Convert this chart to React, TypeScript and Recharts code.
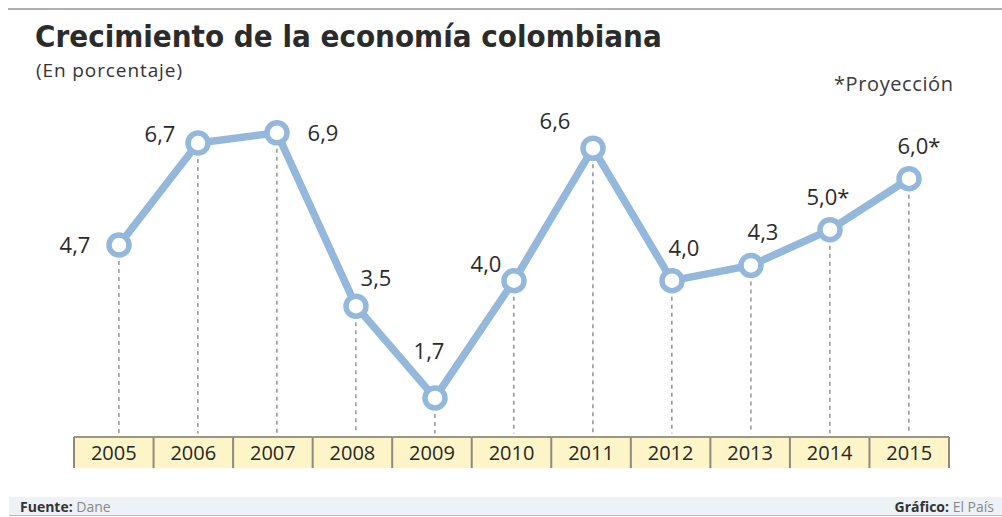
import { ComposedChart, Line, Bar, XAxis, YAxis, LabelList } from 'recharts';

const years = ['2005', '2006', '2007', '2008', '2009', '2010', '2011', '2012', '2013', '2014', '2015'];
const growth = [4.7, 6.7, 6.9, 3.5, 1.7, 4.0, 6.6, 4.0, 4.3, 5.0, 6.0];
const projected = [false, false, false, false, false, false, false, false, false, true, true];

// label placement relative to each point (dx, dy)
const labelOffsets: [number, number][] = [
  [-44, -1], [-38, -10], [46, -1], [20, -29], [-6, -48], [-28, -18],
  [-38, -28], [12, -34], [12, -34], [-2, -34], [10, -34],
];

const data = years.map((year, i) => ({ year, value: growth[i], projected: projected[i] }));

const LINE_COLOR = '#93b8db';
const PLOT_LEFT = 79.5;
const PLOT_RIGHT = 948.5;
const BOX_LEFT = 74;
const BOX_RIGHT = 949;
const BOX_W = (BOX_RIGHT - BOX_LEFT) / years.length;

function YearTick(props: any) {
  const { y, payload, index } = props;
  const top = y + 3.5;
  const h = 31;
  const left = BOX_LEFT + index * BOX_W;
  const last = index === years.length - 1;
  return (
    <g>
      <rect x={left} y={top} width={BOX_W} height={h} fill="#fdf5c8" />
      <line x1={left} y1={top} x2={left + BOX_W} y2={top} stroke="#9a968a" strokeWidth={2} />
      <line x1={left} y1={top} x2={left} y2={top + h} stroke="#8f8a7c" strokeWidth={2} />
      {last && <line x1={left + BOX_W} y1={top} x2={left + BOX_W} y2={top + h} stroke="#8f8a7c" strokeWidth={2} />}
      <text x={left + BOX_W / 2} y={top + 23} textAnchor="middle" fontSize={20} fontWeight={500} fill="#262626"
        fontFamily="'Open Sans', sans-serif">
        {payload.value}
      </text>
    </g>
  );
}

function DashShape(props: any) {
  const { x, y, width, height } = props;
  const cx = x + width / 2;
  return <line x1={cx} y1={y} x2={cx} y2={y + height + 3} stroke="#7a7a7a" strokeWidth={1.2} strokeDasharray="4 4" />;
}

function Ring(props: any) {
  const { cx, cy, index } = props;
  return <circle key={index} cx={cx} cy={cy} r={10} fill="#fff" stroke={LINE_COLOR} strokeWidth={5.5} />;
}

function ValueLabel(props: any) {
  const { x, y, index, value } = props;
  const [dx, dy] = labelOffsets[index];
  const txt = value.toFixed(1).replace('.', ',') + (projected[index] ? '*' : '');
  return (
    <text x={x + dx} y={y + dy} textAnchor="middle" dominantBaseline="central" fontSize={22}
      fill="#2b2b2b" fontFamily="'Open Sans', sans-serif">
      {txt}
    </text>
  );
}

export default function App() {
  return (
    <div style={{ position: 'absolute', left: 0, top: 0, width: 1002, height: 517, background: '#fff', overflow: 'hidden' }}>
      <div style={{ position: 'absolute', left: 8, right: 0, top: 8, height: 2, background: '#b0b0b0' }} />
      <div style={{
        position: 'absolute', left: 35, top: 18, fontFamily: "'DejaVu Sans Condensed', 'DejaVu Sans', sans-serif",
        fontWeight: 700, fontSize: 31, color: '#2b2b2b', whiteSpace: 'nowrap',
      }}>
        Crecimiento de la economía colombiana
      </div>
      <div style={{
        position: 'absolute', left: 36, top: 57, fontFamily: "'Open Sans', sans-serif",
        fontSize: 19, color: '#333', letterSpacing: 0.9, whiteSpace: 'nowrap',
      }}>
        (En porcentaje)
      </div>
      <div style={{
        position: 'absolute', left: 834, top: 70, fontFamily: "'Open Sans', sans-serif",
        fontSize: 20, color: '#3a3a3a', letterSpacing: 0.6, whiteSpace: 'nowrap',
      }}>
        *Proyección
      </div>
      <div style={{ position: 'absolute', left: 0, top: 0 }}>
        <ComposedChart width={1002} height={517} data={data}
          margin={{ top: 76.8, right: 1002 - PLOT_RIGHT, bottom: 48.4, left: PLOT_LEFT }}>
          <XAxis dataKey="year" height={35} axisLine={false} tickLine={false} tickSize={0} tickMargin={0}
            interval={0} tick={<YearTick />} />
          <YAxis hide width={0} domain={[1, 8]} type="number" allowDataOverflow />
          <Bar dataKey="value" shape={<DashShape />} isAnimationActive={false} />
          <Line dataKey="value" type="linear" stroke={LINE_COLOR} strokeWidth={7.5} dot={<Ring />}
            activeDot={false} isAnimationActive={false}>
            <LabelList dataKey="value" content={<ValueLabel />} />
          </Line>
        </ComposedChart>
      </div>
      <div style={{
        position: 'absolute', left: 9, right: 0, top: 497, height: 18, background: '#edf2f6',
        borderBottom: '1.5px solid #b8bcc0',
      }} />
      <div style={{
        position: 'absolute', left: 20, top: 497, fontFamily: "'Open Sans', sans-serif", fontSize: 14, color: '#888',
      }}>
        <b style={{ color: '#333' }}>Fuente:</b> Dane
      </div>
      <div style={{
        position: 'absolute', right: 8, top: 497, fontFamily: "'Open Sans', sans-serif", fontSize: 14, color: '#888',
      }}>
        <b style={{ color: '#333' }}>Gráfico:</b> El País
      </div>
    </div>
  );
}
